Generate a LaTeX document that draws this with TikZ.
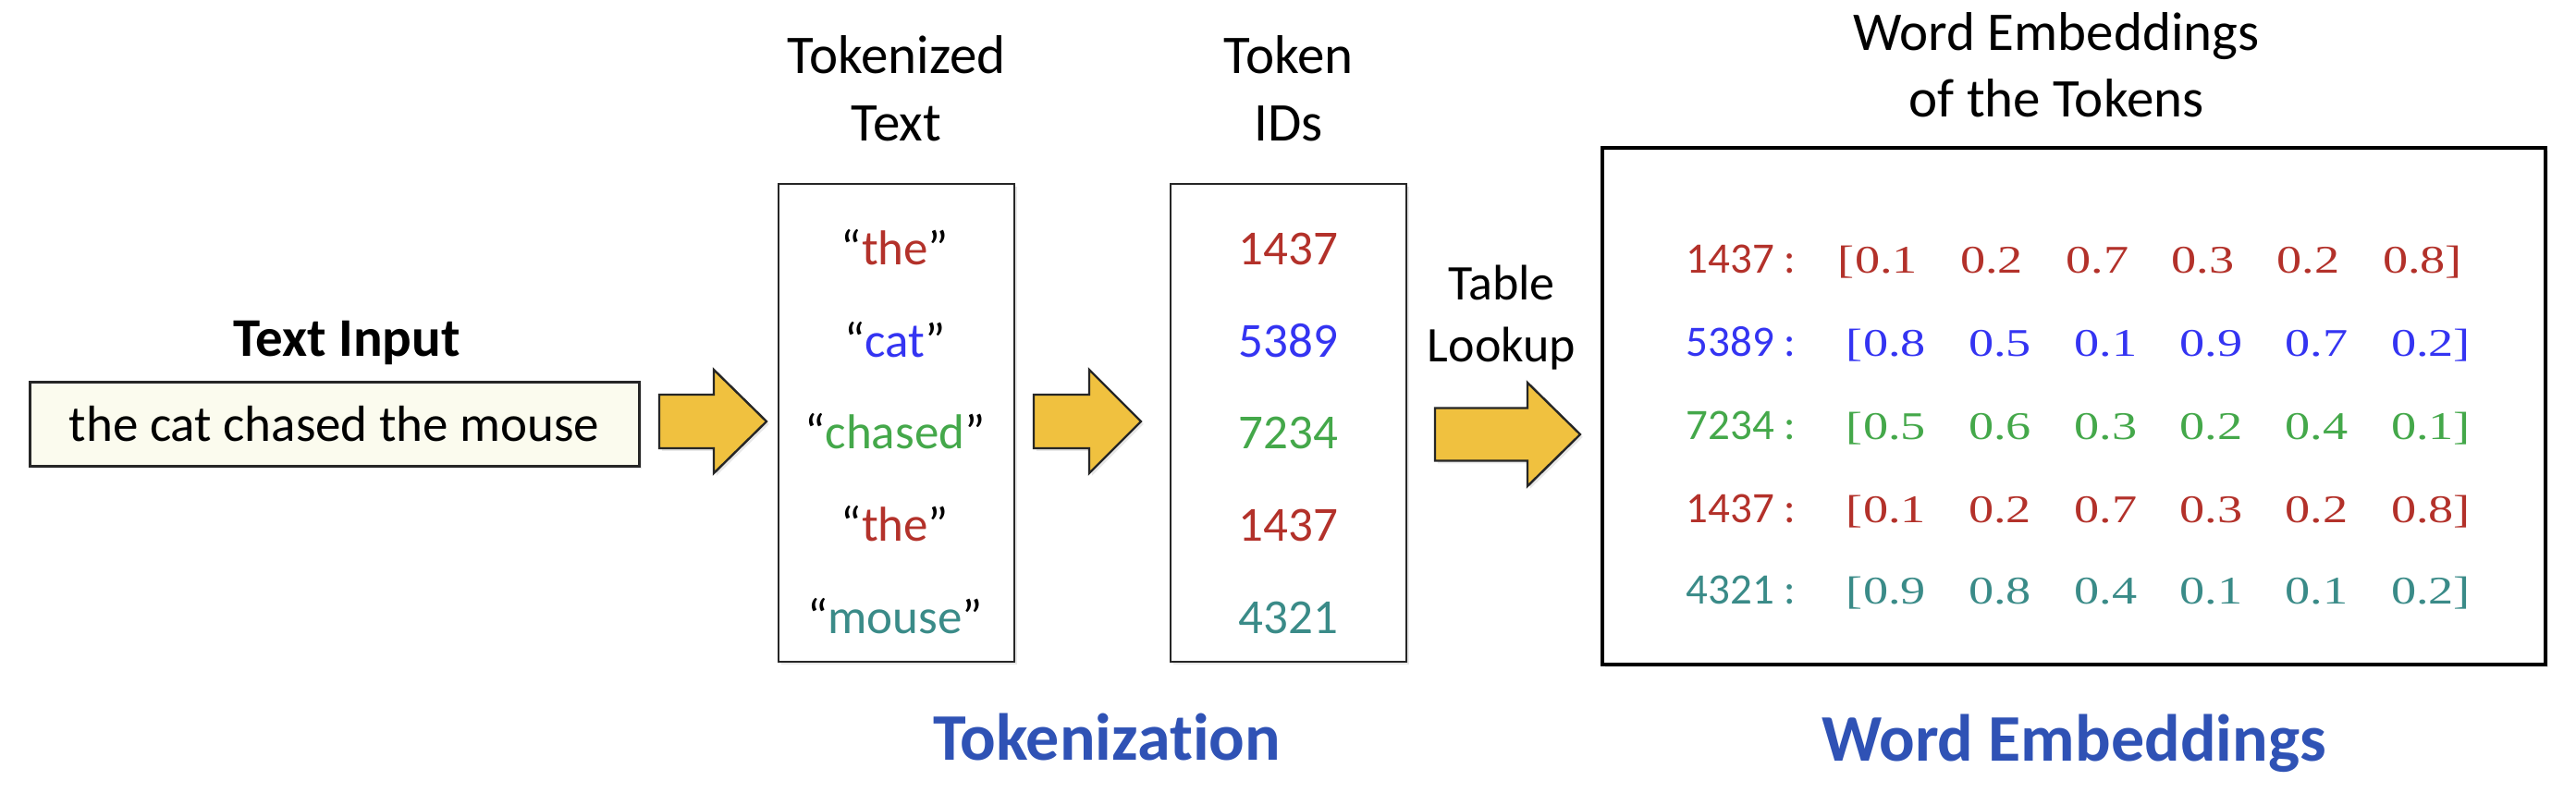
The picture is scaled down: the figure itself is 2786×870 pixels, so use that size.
\documentclass[tikz,border=0pt]{standalone}
\usepackage{fontspec}
\setmainfont{Carlito}[Ligatures=NoCommon]
\newfontfamily\vecfont[FakeStretch=1.28]{Liberation Serif}
\usetikzlibrary{shadows}
\definecolor{cred}{HTML}{B3312A}
\definecolor{cblue}{HTML}{3434F2}
\definecolor{cgreen}{HTML}{44A84A}
\definecolor{cteal}{HTML}{3A8B88}
\definecolor{ctitle}{HTML}{2F52B5}
\definecolor{carrow}{HTML}{F0C13F}
\definecolor{cinput}{HTML}{FBFBEE}
\newcommand{\embrow}[6]{%
  \node[rowlbl, text=#3] (#1l) at (1942,#2) {#5 :};
  \foreach \v [count=\k from 0] in {#6} {
    \node[vecnum, text=#3] (#1n\k) at ({2015+114.2*\k+(#4)},#2) {\v};
  }
  \node[vecnum, text=#3, anchor=base east] (#1ob) at (#1n0.base west) {[};
  \node[vecnum, text=#3, anchor=base west] (#1cb) at (#1n5.base east) {]};
}
\newcommand{\blockarrow}[6]{% name, x tail, x head base, x tip, y centre, shaft half
  \draw[blockarr] (#2,#5-#6) -- (#3,#5-#6) -- (#3,#5-56) -- (#4,#5)
    coordinate (#1tip) -- (#3,#5+56) -- (#3,#5+#6) -- (#2,#5+#6) -- cycle;
}
\begin{document}
\begin{tikzpicture}[x=0.25pt,y=-0.25pt,
  every node/.style={inner sep=0pt, outer sep=0pt},
  ttl/.style={anchor=base, font=\fontsize{14.75pt}{17pt}\selectfont},
  tok/.style={anchor=base, font=\fontsize{13.25pt}{16pt}\selectfont},
  lookup/.style={anchor=base, font=\fontsize{13.5pt}{16pt}\selectfont},
  stagelbl/.style={anchor=base, font=\fontsize{18pt}{21pt}\selectfont\bfseries, text=ctitle},
  rowlbl/.style={anchor=base east, font=\fontsize{11.75pt}{14pt}\selectfont},
  vecnum/.style={anchor=base west, font=\fontsize{10.6pt}{12pt}\vecfont},
  softshadow/.style={drop shadow={shadow xshift=0.7pt, shadow yshift=-0.7pt, opacity=0.18}},
  colbox/.style={draw=black!85, line width=0.65pt, fill=white, softshadow,
    minimum width=63.75pt, minimum height=129.25pt},
  inbox/.style={draw=black!85, line width=0.75pt, fill=cinput, softshadow,
    minimum width=164.75pt, minimum height=22.75pt, font=\fontsize{13.75pt}{16pt}\selectfont},
  embbox/.style={draw=black, line width=1pt, fill=white, softshadow,
    minimum width=255pt, minimum height=139.75pt},
  blockarr/.style={draw=black!85, line width=0.6pt, fill=carrow, line join=miter, softshadow}
]
\fill[white] (0,0) rectangle (2786,870);
\useasboundingbox (0,0) rectangle (2786,870);

% ---- text input
\node[ttl, font=\fontsize{14.75pt}{17pt}\selectfont\bfseries] (tin) at (375,385) {Text Input};
\node[inbox] (inp) at (361.5,458.5) {the cat chased the mouse};

% ---- boxes
\node[colbox] (tokbox) at (969.5,457.5) {};
\node[colbox] (idbox) at (1393.5,457.5) {};
\node[embbox] (embbox) at (2243,439.5) {};

% ---- block arrows
\blockarrow{a1}{713}{772}{829}{456}{29}
\blockarrow{a2}{1118}{1178}{1234}{456}{29}
\blockarrow{a3}{1552}{1652}{1709}{470}{28.5}

% ---- titles
\node[ttl] (tt1) at (969.5,79) {Tokenized};
\node[ttl] (tt2) at (969.5,152) {Text};
\node[ttl] (ti1) at (1393.5,79) {Token};
\node[ttl] (ti2) at (1393.5,152) {IDs};
\node[ttl] (te1) at (2224,54) {Word Embeddings};
\node[ttl] (te2) at (2224,126) {of the Tokens};
\node[lookup] (lk1) at (1624,324) {Table};
\node[lookup] (lk2) at (1624,391) {Lookup};

% ---- tokens
\node[tok] (k1) at (968,286) {“\textcolor{cred}{the}”};
\node[tok] (k2) at (968,386) {“\textcolor{cblue}{cat}”};
\node[tok] (k3) at (968,485) {“\textcolor{cgreen}{chased}”};
\node[tok] (k4) at (968,585) {“\textcolor{cred}{the}”};
\node[tok] (k5) at (968,685) {“\textcolor{cteal}{mouse}”};

% ---- token ids
\node[tok, text=cred]   (d1) at (1393.5,286) {1437};
\node[tok, text=cblue]  (d2) at (1393.5,386) {5389};
\node[tok, text=cgreen] (d3) at (1393.5,485) {7234};
\node[tok, text=cred]   (d4) at (1393.5,585) {1437};
\node[tok, text=cteal]  (d5) at (1393.5,685) {4321};

% ---- embeddings
\embrow{ra}{295}{cred}{-9}{1437}{0.1,0.2,0.7,0.3,0.2,0.8}
\embrow{rb}{385}{cblue}{0}{5389}{0.8,0.5,0.1,0.9,0.7,0.2}
\embrow{rc}{475}{cgreen}{0}{7234}{0.5,0.6,0.3,0.2,0.4,0.1}
\embrow{rd}{565}{cred}{0}{1437}{0.1,0.2,0.7,0.3,0.2,0.8}
\embrow{re}{653}{cteal}{0}{4321}{0.9,0.8,0.4,0.1,0.1,0.2}

% ---- stage labels
\node[stagelbl] (s1) at (1197,822) {Tokenization};
\node[stagelbl] (s2) at (2243,823) {Word Embeddings};
\end{tikzpicture}
\end{document}
